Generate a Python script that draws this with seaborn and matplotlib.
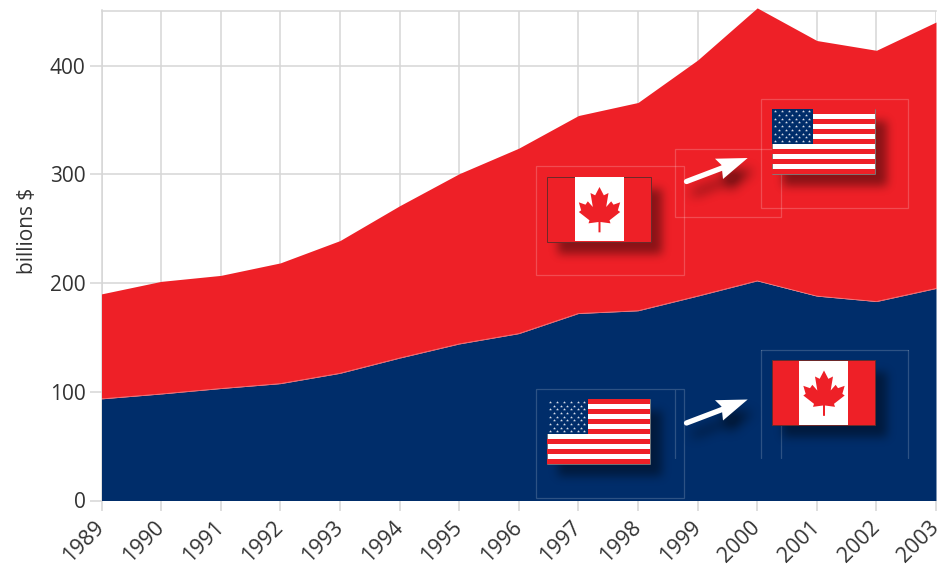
import numpy as np
import pandas as pd
import matplotlib
matplotlib.use("Agg")
import matplotlib.pyplot as plt
from matplotlib.patches import Rectangle, Polygon
from matplotlib.path import Path
import seaborn as sns

years = list(range(1989, 2004))
lower_values = [93.5, 98, 103, 107.5, 117, 131, 144, 153.5, 172, 174.5, 188, 202, 188, 183, 195]
total_values = [190, 201.5, 207, 218.5, 239, 271, 300.5, 324, 354, 366, 405, 453, 423, 414, 440]
y_ticks = [0, 100, 200, 300, 400]

RED = "#EE2027"
NAVY = "#002D6A"
TEXT = "#333333"
GRID = "#D6D6D6"
W, H = 948, 566

sns.set_theme(style="whitegrid")
plt.rcParams["font.family"] = ["Open Sans", "DejaVu Sans"]

fig = plt.figure(figsize=(W / 100, H / 100), dpi=100, facecolor="white")
ax = fig.add_axes([101.5 / W, 1 - 500.5 / H, 834.5 / W, 490 / H])

frame = pd.DataFrame({"year": years, "lower": lower_values, "total": total_values})
ax.fill_between(frame["year"], 0, frame["lower"], color=NAVY, lw=0, zorder=3, clip_on=False)
ax.fill_between(frame["year"], frame["lower"], frame["total"], color=RED, lw=0, zorder=3, clip_on=False)
sns.lineplot(data=frame, x="year", y="lower", ax=ax, color="white", lw=0.5, alpha=0.4,
             zorder=4, clip_on=False)

ax.set_xlim(1989, 2003)
ax.set_ylim(0, 450.6)
ax.set_xticks(years)
ax.set_yticks(y_ticks)
ax.set_xlabel("")
ax.set_ylabel("billions $", fontsize=15, color=TEXT)
ax.yaxis.set_label_coords((38 - 101.5) / 834.5, (500 - 230) / 490)
ax.grid(True, color=GRID, lw=1.1)
ax.set_axisbelow(True)
ax.tick_params(axis="y", length=8.5, width=1.1, color=GRID, labelcolor=TEXT, labelsize=15, pad=3, left=True)
ax.tick_params(axis="x", length=7, width=1.1, color=GRID, labelcolor=TEXT, labelsize=15.5, pad=10, bottom=True)
for lab in ax.get_xticklabels():
    lab.set_rotation(45)
    lab.set_ha("right")
    lab.set_va("center")
    lab.set_rotation_mode("anchor")
for side in ("left", "top"):
    ax.spines[side].set_color(GRID)
    ax.spines[side].set_linewidth(1.1)
for side in ("right", "bottom"):
    ax.spines[side].set_visible(False)

# Overlay in pixel coordinates for the flag and arrow decorations
ov = fig.add_axes([0, 0, 1, 1], facecolor="none")
ov.set_xlim(0, W)
ov.set_ylim(H, 0)
ov.axis("off")

FLAG_W, FLAG_H = 103.5, 65


def rect_pts(x, y, w, h):
    return [(x, y), (x + w, y), (x + w, y + h), (x, y + h)]


def arrow_pts(dy):
    return [(747.7, 158 + dy), (715, 158.7 + dy), (721.5, 165 + dy), (723, 179 + dy)]


def shaft_pts(dy):
    x0, y0, x1, y1 = 686.5, 181.5 + dy, 726, 166.5 + dy
    n = np.array([y1 - y0, x0 - x1]) / np.hypot(x1 - x0, y1 - y0) * 2.6
    return [(x0 + n[0], y0 + n[1]), (x1 + n[0], y1 + n[1]), (x1 - n[0], y1 - n[1]), (x0 - n[0], y0 - n[1])]


def box_blur(a, r, passes=3):
    k = np.ones(2 * r + 1) / (2 * r + 1)
    for _ in range(passes):
        a = np.apply_along_axis(lambda v: np.convolve(v, k, mode="same"), 0, a)
        a = np.apply_along_axis(lambda v: np.convolve(v, k, mode="same"), 1, a)
    return a


# Soft drop shadows, one raster layer below the flags
gx, gy = np.meshgrid(np.arange(W) + 0.5, np.arange(H) + 0.5)
grid_pts = np.column_stack([gx.ravel(), gy.ravel()])


def poly_mask(pts, dx, dy):
    shifted = [(p[0] + dx, p[1] + dy) for p in pts]
    return Path(shifted + [shifted[0]]).contains_points(grid_pts).reshape(H, W).astype(float)


flag_slots = [(547.5, 176.5, "ca"), (772, 108.5, "us"), (547, 399, "us"), (772, 360, "ca")]
mask = np.zeros((H, W))
for fx, fy, _ in flag_slots:
    mask += poly_mask(rect_pts(fx, fy, FLAG_W, FLAG_H), 11, 12)
blurred = box_blur(mask, 4)
arrow_mask = np.zeros((H, W))
for dy in (0, 241.5):
    arrow_mask += poly_mask(arrow_pts(dy), 6, 12)
    arrow_mask += poly_mask(shaft_pts(dy), 6, 12)
arrow_blurred = box_blur(arrow_mask, 5)
alpha = np.clip(blurred * 0.42 + arrow_blurred * 0.55, 0, 0.42)
layer = np.zeros((H, W, 4))
layer[..., 3] = alpha
ov.imshow(layer, extent=(0, W, H, 0), aspect="auto", interpolation="nearest", zorder=2)
ov.set_xlim(0, W)
ov.set_ylim(H, 0)

# Thin pale frames behind the flags
frame_kw = dict(fill=False, lw=0.9, zorder=1)
for x, y, w, h in [(536.5, 165.5, 148, 109), (675.5, 148.5, 106, 68), (761.5, 98.5, 147, 109)]:
    ov.add_patch(Rectangle((x, y), w, h, ec=(1, 1, 1, 0.2), **frame_kw))
ov.add_patch(Rectangle((536.5, 388.5), 148, 109, ec=(1, 1, 1, 0.18), **frame_kw))
for xs, ys in [((675.5, 675.5), (390, 458)), ((761.5, 761.5), (349.5, 458)),
               ((781.5, 781.5), (425, 458)), ((908.5, 908.5), (349.5, 458)),
               ((761.5, 908.5), (349.5, 349.5))]:
    ov.plot(xs, ys, color=(1, 1, 1, 0.18), lw=0.9, zorder=1)

leaf_right = [(0, 292), (13, 317), (27, 310), (20, 352), (35, 335), (42, 345), (62, 338),
              (55, 362), (62, 367), (30, 392), (33, 401), (3, 397), (3, 428)]


def draw_canada(x, y):
    ov.add_patch(Rectangle((x, y), FLAG_W, FLAG_H, fc=RED, ec="#6b2a2a", lw=0.7, zorder=3))
    ov.add_patch(Rectangle((x + 27.5, y + 0.5), 49, FLAG_H - 1, fc="white", lw=0, zorder=3.1))
    cx = x + 52
    top = y + 10.5
    right = [(cx + a / 3, top + (b - 292) / 3) for a, b in leaf_right]
    left = [(cx - a / 3, top + (b - 292) / 3) for a, b in reversed(leaf_right[1:])]
    ov.add_patch(Polygon(right + left, closed=True, fc=RED, lw=0, zorder=3.2))


def draw_usa(x, y):
    stripe = FLAG_H / 13
    ov.add_patch(Rectangle((x, y), FLAG_W, FLAG_H, fc="white", ec="#666666", lw=0.5, zorder=3))
    for i in range(0, 13, 2):
        ov.add_patch(Rectangle((x, y + i * stripe), FLAG_W, stripe, fc=RED, lw=0, zorder=3.1))
    ov.add_patch(Rectangle((x, y), 41, 7 * stripe, fc=NAVY, lw=0, zorder=3.2))
    sx, sy = [], []
    for row in range(9):
        count = 6 if row % 2 == 0 else 5
        off = 3.4 if row % 2 == 0 else 6.8
        for col in range(count):
            sx.append(x + off + col * 6.8)
            sy.append(y + 2.8 + row * 3.7)
    ov.scatter(sx, sy, s=5, marker="*", color="#d8deea", lw=0, zorder=3.3)


for fx, fy, kind in flag_slots:
    (draw_canada if kind == "ca" else draw_usa)(fx, fy)

# White arrows between the flag pairs
for dy in (0, 241.5):
    ov.plot([686.5, 726], [181.5 + dy, 166.5 + dy], color="white", lw=3.8,
            solid_capstyle="round", zorder=3)
    ov.add_patch(Polygon(arrow_pts(dy), closed=True, fc="white", lw=0, zorder=3))

ov.set_xlim(0, W)
ov.set_ylim(H, 0)

fig.savefig("out.png", dpi=100)
